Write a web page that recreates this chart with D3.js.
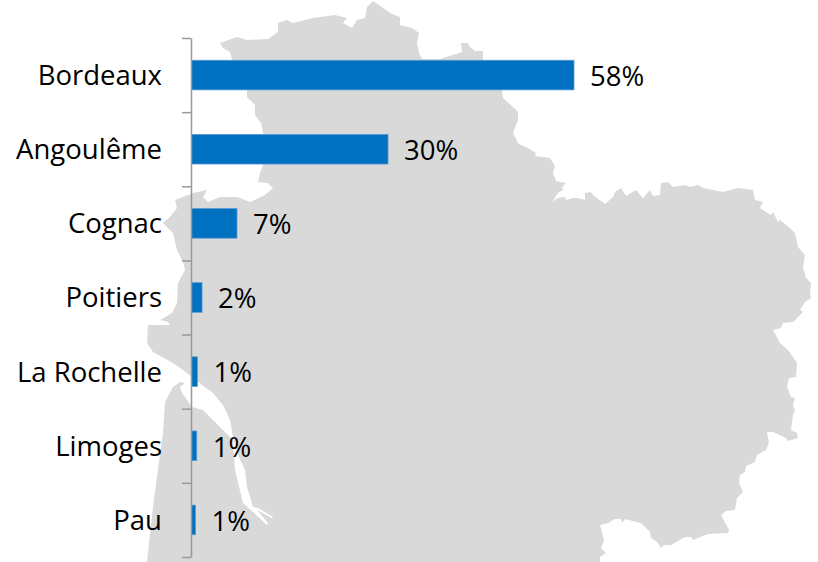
<!DOCTYPE html>
<html><head><meta charset="utf-8">
<script src="https://cdn.jsdelivr.net/npm/d3@7/dist/d3.min.js"></script>
<style>html,body{margin:0;padding:0;background:#fff}svg{display:block}</style>
</head><body><svg id="c" width="818" height="562"></svg>
<script>
const categories = ["Bordeaux","Angoulême","Cognac","Poitiers","La Rochelle","Limoges","Pau"];
const shares = [58, 29.8, 6.9, 1.6, 0.9, 0.8, 0.6];
const shareLabels = ["58%","30%","7%","2%","1%","1%","1%"];
const regionOutline = [[147,562],[600,562],[600,557],[606,553],[601,548],[604,540],[600,525],[608,523],[615,519],[621,519],[622,523],[625,519],[641,523],[650,532],[651,538],[657,542],[661,548],[664,545],[671,545],[685,537],[691,537],[693,540],[708,534],[728,533],[729,530],[721,515],[726,511],[735,510],[737,498],[743,492],[739,483],[740,475],[745,472],[746,466],[755,462],[757,455],[766,450],[769,443],[767,432],[773,432],[786,438],[788,441],[798,438],[797,433],[791,430],[793,415],[795,410],[793,405],[795,398],[791,397],[787,387],[789,378],[796,377],[797,363],[788,350],[780,343],[773,330],[781,328],[783,323],[793,322],[803,312],[800,310],[805,302],[811,298],[810,293],[811,283],[806,278],[803,267],[805,255],[798,247],[795,233],[790,228],[780,220],[778,222],[773,212],[771,215],[766,212],[760,208],[763,202],[755,200],[753,190],[738,188],[723,192],[703,188],[698,185],[690,187],[685,185],[673,187],[668,182],[661,183],[660,195],[653,196],[650,190],[643,198],[636,190],[626,196],[621,188],[615,192],[613,197],[605,204],[593,195],[591,192],[585,193],[585,200],[578,198],[573,198],[566,200],[565,197],[558,198],[552,202],[558,193],[564,189],[561,188],[566,183],[556,181],[553,173],[555,166],[550,158],[535,156],[536,153],[528,148],[521,145],[518,143],[513,133],[518,120],[518,112],[513,107],[503,98],[502,90],[483,60],[483,51],[475,51],[469,46],[468,43],[461,43],[462,52],[440,59],[422,59],[419,53],[417,43],[419,33],[412,28],[400,25],[400,17],[390,13],[382,7],[373,1],[367,7],[365,18],[357,20],[352,28],[343,23],[347,18],[335,15],[313,18],[293,23],[287,20],[278,23],[278,32],[268,39],[247,40],[237,37],[220,43],[223,48],[230,52],[232,60],[247,90],[247,97],[255,105],[255,115],[261,123],[263,132],[263,165],[260,173],[258,182],[268,183],[273,188],[265,195],[250,202],[237,197],[220,197],[208,202],[203,197],[207,190],[193,193],[183,197],[175,200],[177,208],[170,217],[163,223],[173,233],[177,250],[183,262],[185,270],[178,283],[177,303],[172,313],[160,320],[168,322],[170,325],[148,325],[147,343],[153,352],[173,363],[183,370],[192,377],[202,385],[213,393],[223,405],[230,420],[233,437],[238,455],[245,470],[247,487],[253,507],[258,508],[273,517],[272,518],[257,510],[268,523],[267,525],[253,512],[243,503],[235,470],[233,440],[220,427],[203,410],[192,407],[182,393],[180,387],[185,383],[180,382],[173,387],[165,402],[163,433],[157,477],[153,507]];

const svg = d3.select("#c");
const font = "'Open Sans', sans-serif";
const fontSize = 27.5;

svg.append("path").attr("d", d3.line()(regionOutline) + "Z").attr("fill", "#d9d9d9");

const x = d3.scaleLinear().domain([0, 58]).range([191.5, 574]);
const y = d3.scaleBand().domain(categories).range([38, 557]).paddingInner(0.6).paddingOuter(0.3);
const slots = d3.scaleLinear().domain([0, categories.length]).range([38, 557]);

const bars = svg.append("g");
bars.selectAll("rect").data(categories).join("rect")
  .attr("x", x(0))
  .attr("y", d => y(d))
  .attr("width", (d,i) => x(shares[i]) - x(0))
  .attr("height", y.bandwidth())
  .attr("fill", "#0070c0")
  .attr("stroke", "#5b9bd5")
  .attr("stroke-width", 0.75);

const axis = d3.axisLeft(slots).tickValues(d3.range(categories.length + 1)).tickFormat("").tickSize(9).tickSizeOuter(0);
const ag = svg.append("g").attr("transform", "translate(191,0)").call(axis);
ag.selectAll("path,line").attr("stroke", "#999").attr("stroke-width", 1.5);

svg.append("g").selectAll("text").data(categories).join("text")
  .attr("x", 162)
  .attr("y", d => y(d) + y.bandwidth()/2)
  .attr("dy", "0.36em")
  .attr("text-anchor", "end")
  .attr("font-family", font).attr("font-size", fontSize).attr("fill", "#000")
  .text(d => d);

svg.append("g").selectAll("text").data(categories).join("text")
  .attr("x", (d,i) => x(shares[i]) + 16)
  .attr("y", d => y(d) + y.bandwidth()/2)
  .attr("dy", "0.39em")
  .attr("font-family", font).attr("font-size", fontSize).attr("fill", "#000")
  .text((d,i) => shareLabels[i]);
</script></body></html>
